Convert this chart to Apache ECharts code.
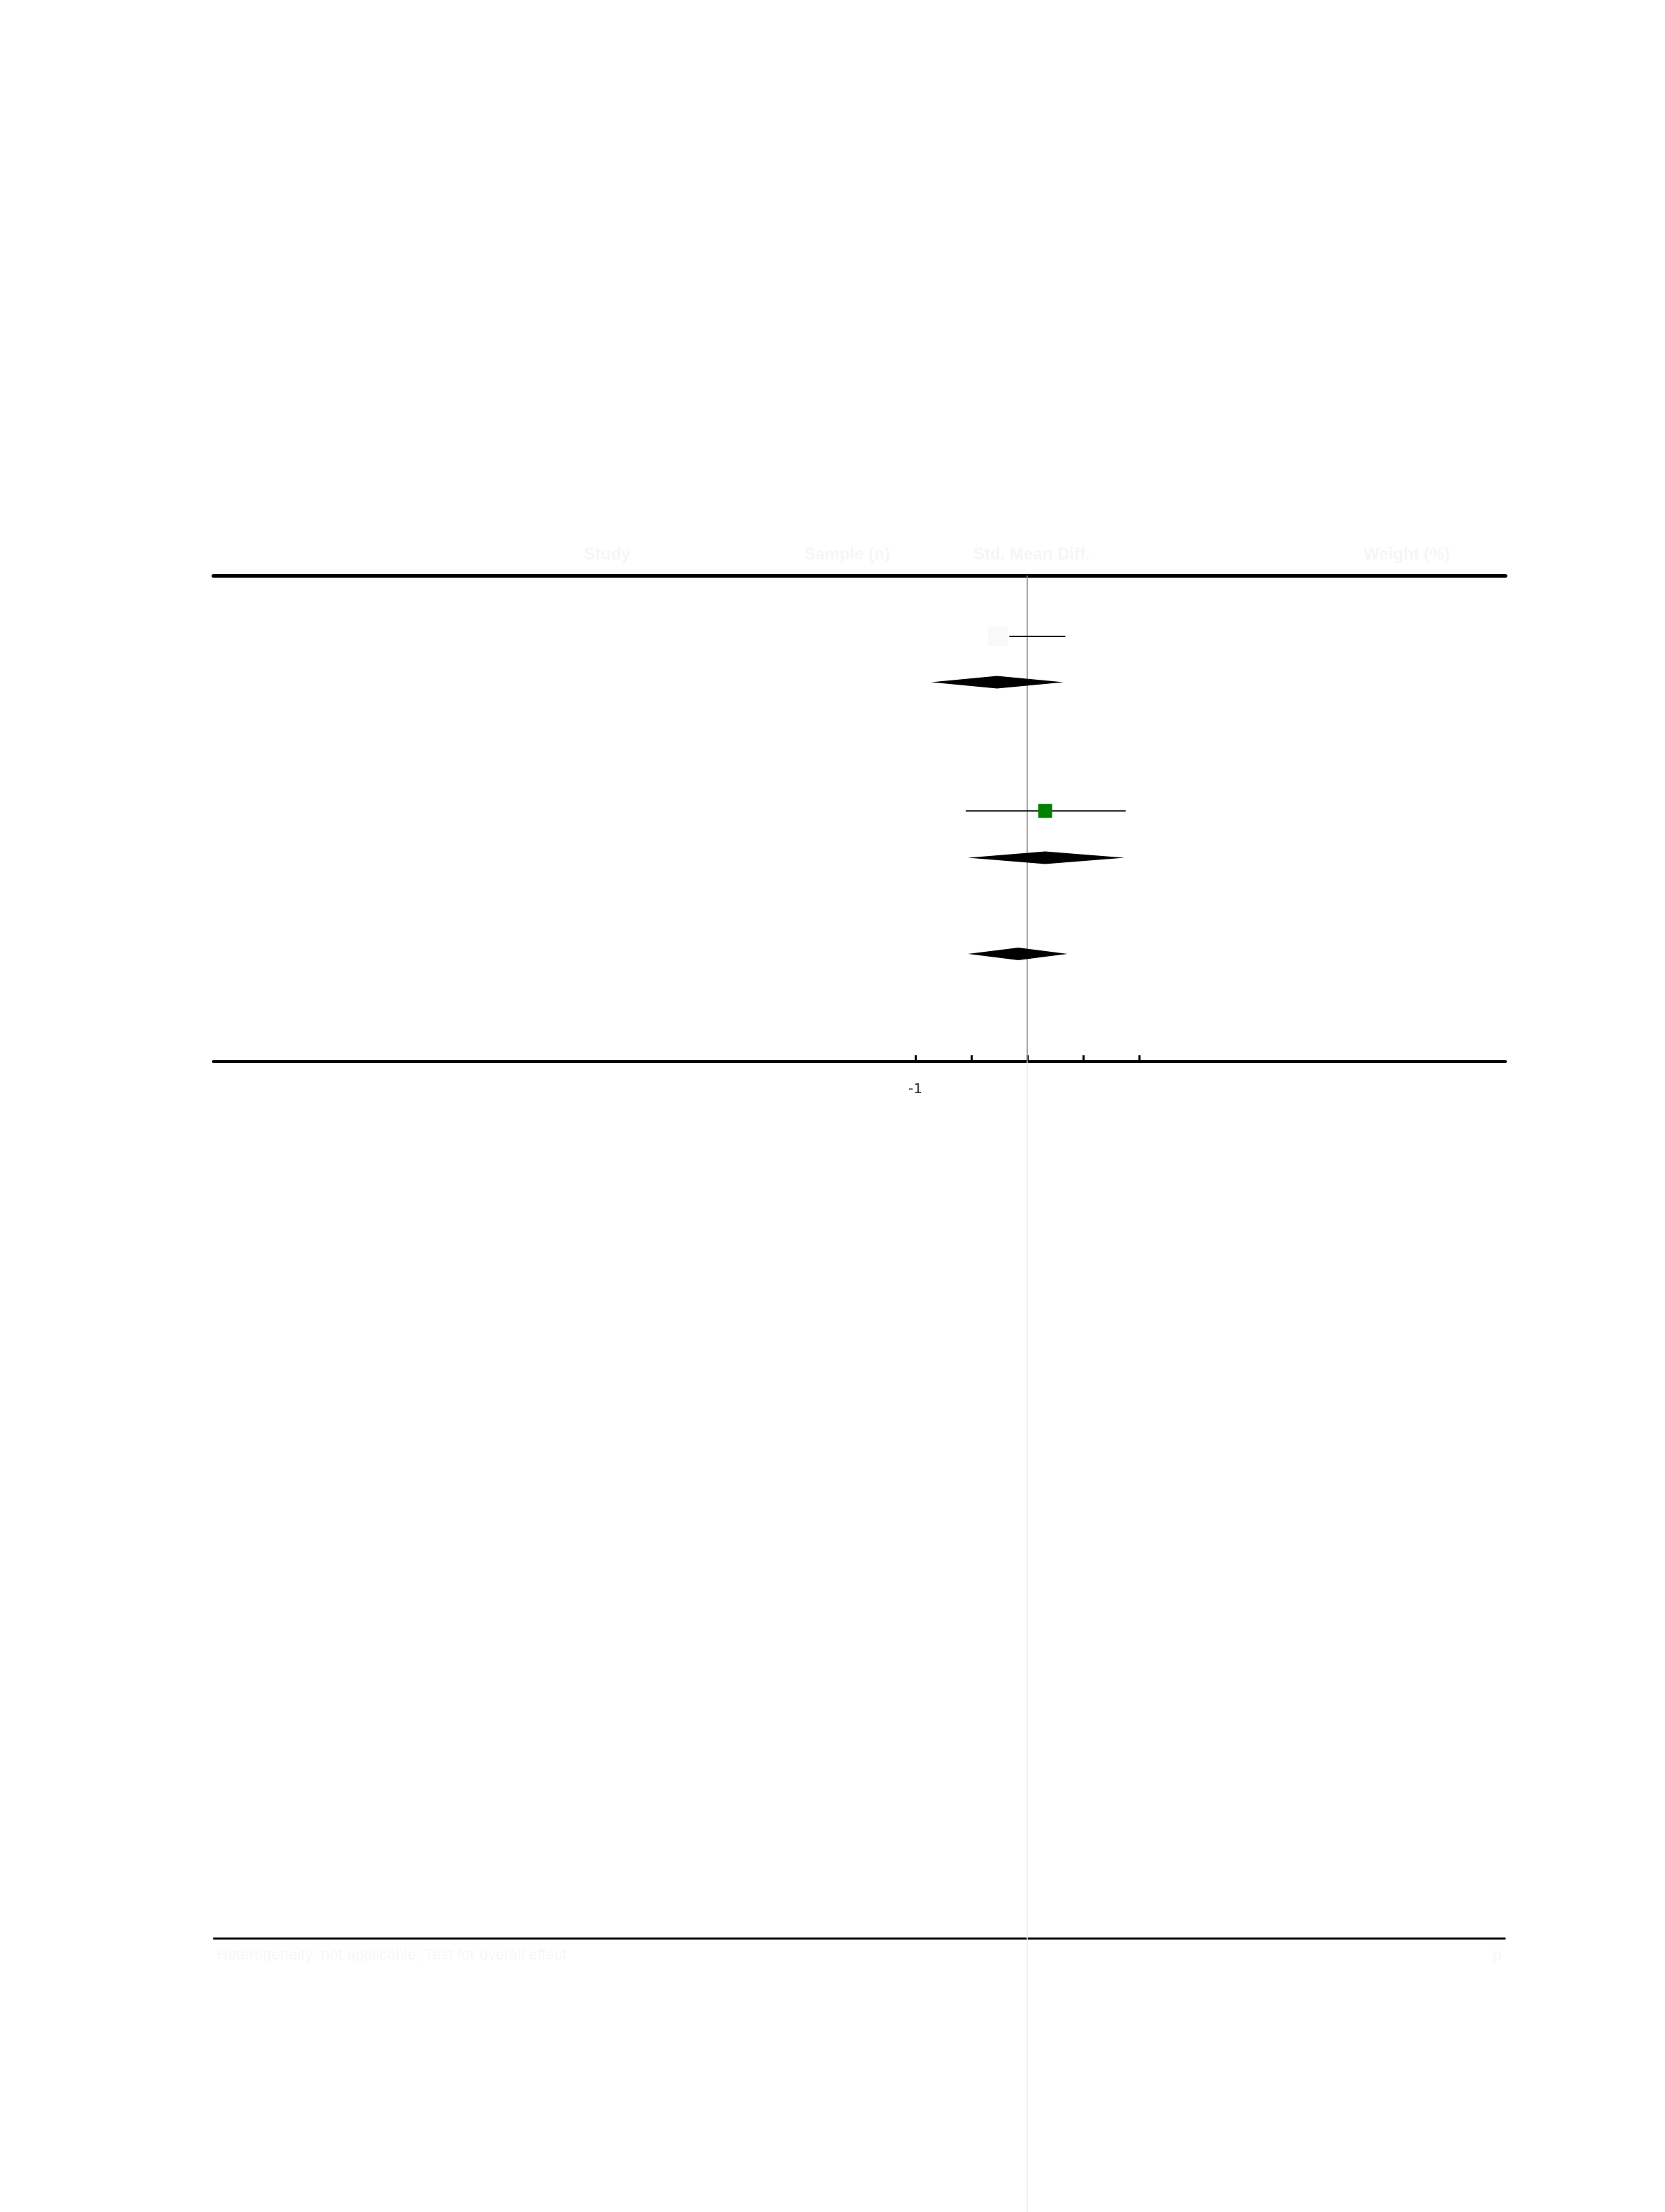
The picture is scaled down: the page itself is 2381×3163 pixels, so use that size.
<!DOCTYPE html>
<html>
<head>
<meta charset="utf-8">
<style>html,body{margin:0;padding:0;background:#fff}#c{width:2381px;height:3163px}</style>
<script src="https://cdn.jsdelivr.net/npm/echarts@6/dist/echarts.min.js"></script>
</head>
<body>
<div id="c"></div>
<script>
// ---- data ----
const headers = ["Study", "Sample (n)", "Std. Mean Diff.", "Weight (%)"];
const xTicks = [-1, -0.5, 0, 0.5, 1];
const xTickLabels = [-1];
// study rows: [rowPos, estimate, lower, upper]
const studyFaint = [[2.6, -0.26, -0.16, 0.34]];
const studyGreen = [[10.05, 0.16, -0.55, 0.88]];
// summary diamonds: [rowPos, estimate, lower, upper]
const diamonds = [
  [4.55, -0.27, -0.86, 0.325],
  [12.05, 0.16, -0.53, 0.87],
  [16.15, -0.08, -0.53, 0.36]
];
const footLeft = "Heterogeneity: not applicable; Test for overall effect";
const footRight = "p";

const chart = echarts.init(document.getElementById('c'), null, {renderer: 'canvas'});
const X_MIN = -7.275, X_MAX = 4.275;

function ciItem(params, api, sq, color) {
  const y = api.value(0), est = api.value(1), lo = api.value(2), hi = api.value(3);
  const p = api.coord([est, y]);
  const pl = api.coord([lo, y]);
  const ph = api.coord([hi, y]);
  return {type: 'group', children: [
    {type: 'line', shape: {x1: pl[0], y1: p[1], x2: ph[0], y2: p[1]}, style: {stroke: '#000', lineWidth: 2}},
    {type: 'rect', shape: {x: p[0] - sq / 2, y: p[1] - sq / 2, width: sq, height: sq}, style: {fill: color}}
  ]};
}

const option = {
  animation: false,
  backgroundColor: '#fff',
  grid: [
    {left: 305, right: 228, top: 823, height: 695},
    {left: 305, right: 228, top: 1518, bottom: 0}
  ],
  xAxis: [
    {gridIndex: 0, type: 'value', min: X_MIN, max: X_MAX, position: 'bottom',
      splitLine: {show: false},
      axisLine: {show: true, onZero: false, lineStyle: {color: '#000', width: 4}},
      axisTick: {show: true, inside: true, length: 9, customValues: xTicks, lineStyle: {color: '#000', width: 3}},
      axisLabel: {show: true, customValues: xTickLabels, margin: 30, fontSize: 20, color: '#333', fontFamily: 'DejaVu Sans',
        formatter: v => String(v)}
    },
    {gridIndex: 0, type: 'value', min: X_MIN, max: X_MAX, position: 'top',
      splitLine: {show: false},
      axisLine: {show: true, onZero: false, lineStyle: {color: '#000', width: 5}},
      axisTick: {show: false}, axisLabel: {show: false}
    },
    {gridIndex: 1, type: 'value', min: X_MIN, max: X_MAX, show: false, splitLine: {show: false}}
  ],
  yAxis: [
    {gridIndex: 0, type: 'value', inverse: true, min: 0, max: 20.75, show: false, splitLine: {show: false}},
    {gridIndex: 1, type: 'value', min: 0, max: 1, show: false, splitLine: {show: false}}
  ],
  series: [
    {type: 'line', xAxisIndex: 0, yAxisIndex: 0, data: [], silent: true,
      markLine: {symbol: 'none', silent: true, label: {show: false},
        lineStyle: {color: '#8a8a8a', width: 1.5, type: 'solid'}, data: [{xAxis: 0}]}},
    {type: 'line', xAxisIndex: 2, yAxisIndex: 1, data: [], silent: true,
      markLine: {symbol: 'none', silent: true, label: {show: false},
        lineStyle: {color: '#ececec', width: 1.5, type: 'solid'}, data: [{xAxis: 0}]}},
    {type: 'custom', xAxisIndex: 0, yAxisIndex: 0, data: studyFaint, z: 5,
      renderItem: (p, api) => ciItem(p, api, 28, '#f9f9f9')},
    {type: 'custom', xAxisIndex: 0, yAxisIndex: 0, data: studyGreen, z: 5,
      renderItem: (p, api) => ciItem(p, api, 20, '#008000')},
    {type: 'custom', xAxisIndex: 0, yAxisIndex: 0, data: diamonds, z: 5,
      renderItem: (params, api) => {
        const y = api.value(0), est = api.value(1), lo = api.value(2), hi = api.value(3);
        const c = api.coord([est, y]), l = api.coord([lo, y]), h = api.coord([hi, y]);
        const hh = 9;
        return {type: 'polygon', shape: {points: [[l[0], c[1]], [c[0], c[1] - hh], [h[0], c[1]], [c[0], c[1] + hh]]},
          style: {fill: '#000'}};
      }}
  ],
  graphic: [
    {type: 'text', left: 835, top: 781, style: {text: headers[0], fontSize: 24, fill: '#f6f6f6', fontFamily: 'Liberation Sans', fontWeight: 'bold'}},
    {type: 'text', left: 1150, top: 781, style: {text: headers[1], fontSize: 24, fill: '#f6f6f6', fontFamily: 'Liberation Sans', fontWeight: 'bold'}},
    {type: 'text', left: 1392, top: 781, style: {text: headers[2], fontSize: 24, fill: '#f6f6f6', fontFamily: 'Liberation Sans', fontWeight: 'bold'}},
    {type: 'text', left: 1950, top: 781, style: {text: headers[3], fontSize: 24, fill: '#f6f6f6', fontFamily: 'Liberation Sans', fontWeight: 'bold'}},
    {type: 'line', shape: {x1: 305, y1: 2772, x2: 2153, y2: 2772}, style: {stroke: '#000', lineWidth: 3}},
    {type: 'text', left: 310, top: 2785, style: {text: footLeft, fontSize: 22, fill: '#f7f7f7', fontFamily: 'Liberation Sans'}},
    {type: 'text', left: 2135, top: 2785, style: {text: footRight, fontSize: 22, fill: '#f7f7f7', fontFamily: 'Liberation Sans'}}
  ]
};
chart.setOption(option);
</script>
</body>
</html>
